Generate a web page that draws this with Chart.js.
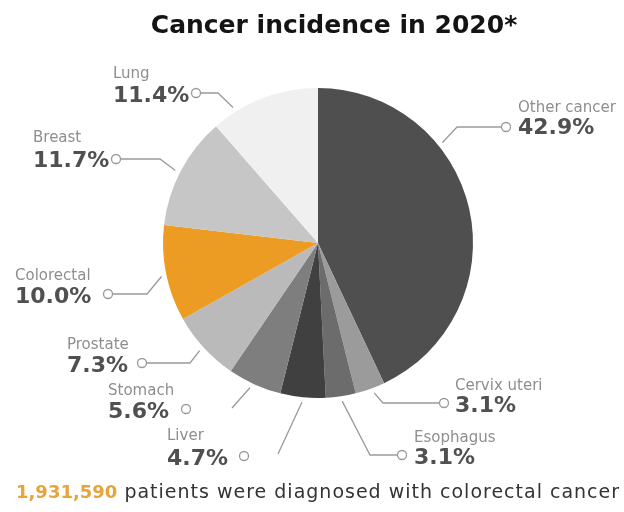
<!DOCTYPE html>
<html>
<head>
<meta charset="utf-8">
<script src="https://cdn.jsdelivr.net/npm/chart.js@4/dist/chart.umd.min.js"></script>
<style>
  html, body { margin: 0; padding: 0; background: #fff; }
  #wrap { width: 624px; height: 512px; }
</style>
</head>
<body>
<div id="wrap"><canvas id="chart" width="624" height="512"></canvas></div>
<script>
// incidence share by cancer type, clockwise from 12 o'clock
const categories = ['Other cancer', 'Cervix uteri', 'Esophagus', 'Liver', 'Stomach', 'Prostate', 'Colorectal', 'Breast', 'Lung'];
const incidence = [42.9, 3.1, 3.1, 4.7, 5.6, 7.3, 10.0, 11.7, 11.4];
const sliceColors = ['#4f4f4f', '#9b9b9b', '#6c6c6c', '#404040', '#7e7e7e', '#bababa', '#ec9b23', '#c6c6c6', '#f0f0f0'];

const titleText = 'Cancer incidence in 2020*';
const patientsCount = '1,931,590';
const footerText = ' patients were diagnosed with colorectal cancer';

// where each label sits and how its leader runs to the slice
// frac = position inside the slice, elbow = bend point, dot = small ring next to the value
const labelLayout = [
  { x: 518, nameY: 112, pctY: 134, frac: 0.33, elbow: [457, 127], dot: [506, 127] },
  { x: 455, nameY: 390, pctY: 412, frac: 0.42, elbow: [383, 403], dot: [444, 403] },
  { x: 414, nameY: 442, pctY: 464, frac: 0.48, elbow: [370, 455], dot: [402, 455] },
  { x: 167, nameY: 440, pctY: 465, frac: 0.51, elbow: [278, 454], dot: [244, 456], tail: false },
  { x: 108, nameY: 395, pctY: 418, frac: 0.55, elbow: [232, 408], dot: [186, 409], tail: false },
  { x: 67, nameY: 349, pctY: 372, frac: 0.51, elbow: [190, 363], dot: [142, 363] },
  { x: 15, nameY: 280, pctY: 303, frac: 0.48, elbow: [147, 294], dot: [108, 294] },
  { x: 33, nameY: 142, pctY: 167, frac: 0.48, elbow: [160, 159], dot: [116, 159] },
  { x: 113, nameY: 78, pctY: 102, frac: 0.22, elbow: [218, 93], dot: [196, 93] }
];

const labelPlugin = {
  id: 'calloutLabels',
  afterDraw(chart) {
    const ctx = chart.ctx;
    const arcs = chart.getDatasetMeta(0).data;
    ctx.save();

    // title
    ctx.fillStyle = '#141414';
    ctx.font = 'bold 25px "DejaVu Sans"';
    ctx.textAlign = 'center';
    ctx.textBaseline = 'alphabetic';
    ctx.fillText(titleText, 334, 33);

    // leaders + labels
    arcs.forEach((arc, i) => {
      const lay = labelLayout[i];
      const p = arc.getProps(['x', 'y', 'startAngle', 'endAngle', 'outerRadius'], true);
      const a = p.startAngle + lay.frac * (p.endAngle - p.startAngle);
      const r = p.outerRadius + 5;
      const sx = p.x + Math.cos(a) * r;
      const sy = p.y + Math.sin(a) * r;

      ctx.strokeStyle = '#9a9a9a';
      ctx.lineWidth = 1.3;
      ctx.beginPath();
      ctx.moveTo(sx, sy);
      ctx.lineTo(lay.elbow[0], lay.elbow[1]);
      if (lay.tail !== false) {
        const toward = lay.dot[0] > lay.elbow[0] ? -4.5 : 4.5;
        ctx.lineTo(lay.dot[0] + toward, lay.dot[1]);
      }
      ctx.stroke();

      ctx.beginPath();
      ctx.arc(lay.dot[0], lay.dot[1], 4.5, 0, Math.PI * 2);
      ctx.fillStyle = '#fff';
      ctx.fill();
      ctx.stroke();

      ctx.textAlign = 'left';
      ctx.fillStyle = '#8e8e8e';
      ctx.font = '15px "DejaVu Sans"';
      ctx.fillText(categories[i], lay.x, lay.nameY);

      ctx.fillStyle = '#505050';
      ctx.font = 'bold 22px "DejaVu Sans"';
      ctx.fillText(incidence[i].toFixed(1) + '%', lay.x, lay.pctY);
    });

    // footer line
    ctx.textAlign = 'left';
    ctx.font = 'bold 18px "DejaVu Sans"';
    ctx.fillStyle = '#e6a43a';
    ctx.fillText(patientsCount, 16, 498);
    const w = ctx.measureText(patientsCount).width;
    ctx.font = '19px "DejaVu Sans"';
    ctx.letterSpacing = '1px';
    ctx.fillStyle = '#333';
    ctx.fillText(footerText, 16 + w, 498);

    ctx.restore();
  }
};

const ctx = document.getElementById('chart').getContext('2d');
const chart = new Chart(ctx, {
  type: 'pie',
  data: {
    labels: categories,
    datasets: [{
      data: incidence,
      backgroundColor: sliceColors,
      borderWidth: 0
    }]
  },
  options: {
    responsive: false,
    animation: false,
    devicePixelRatio: 1,
    layout: { padding: { top: 88, bottom: 114, left: 163, right: 151 } },
    plugins: {
      legend: { display: false },
      tooltip: { enabled: false },
      title: { display: false }
    }
  },
  plugins: [labelPlugin]
});
</script>
</body>
</html>
